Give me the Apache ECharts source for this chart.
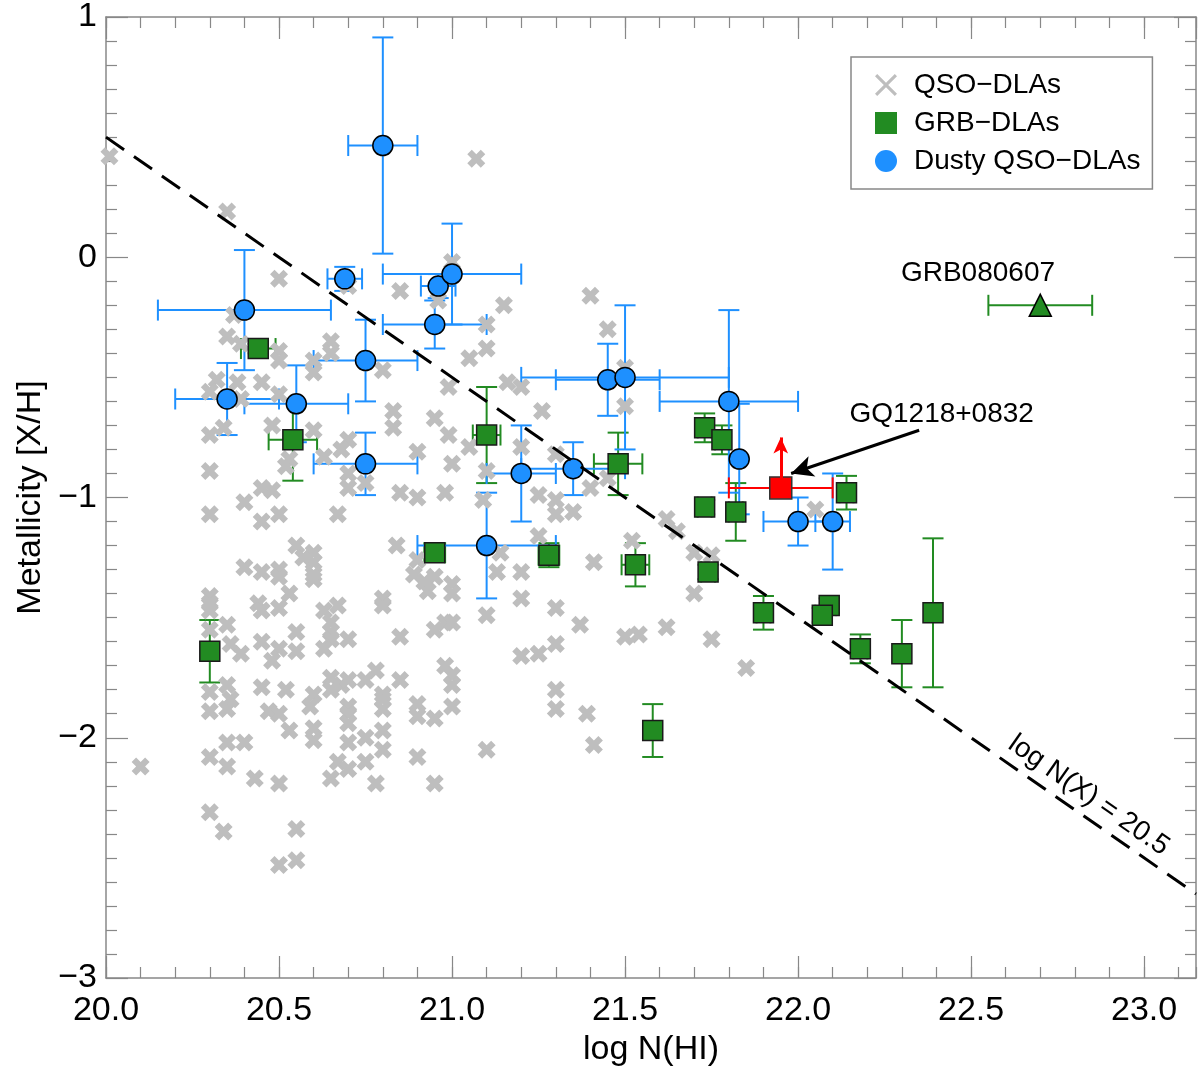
<!DOCTYPE html>
<html>
<head>
<meta charset="utf-8">
<script src="https://cdn.jsdelivr.net/npm/echarts@6/dist/echarts.min.js"></script>
<style>
html, body { margin: 0; padding: 0; background: #fff; }
#chart { width: 1200px; height: 1072px; }
</style>
</head>
<body>
<div id="chart"></div>
<script>
function $(selectors) {
    return document.querySelector(selectors);
}

// QSO-DLAs: [log N(HI), [X/H]]
var qsoDLAs = [
    [20.01, 0.42], [20.35, 0.19], [21.07, 0.41],
    [20.50, -0.09], [20.85, -0.14], [20.37, -0.24], [20.35, -0.33], [20.39, -0.36], [20.50, -0.39],
    [20.50, -0.43], [20.65, -0.35], [20.65, -0.40], [20.60, -0.43], [20.60, -0.48], [20.80, -0.47],
    [20.32, -0.51], [20.38, -0.52], [20.45, -0.52], [20.30, -0.56], [20.39, -0.59], [20.50, -0.57],
    [20.99, -0.54], [20.83, -0.64], [20.83, -0.71], [20.95, -0.67], [20.99, -0.74], [20.30, -0.74],
    [20.34, -0.71], [20.48, -0.70], [20.60, -0.72], [20.70, -0.76], [20.68, -0.80], [20.63, -0.83],
    [20.52, -0.87], [20.53, -0.84], [20.90, -0.81], [20.70, -0.90], [20.70, -0.96], [20.75, -0.94],
    [20.30, -0.89], [20.45, -0.96], [20.48, -0.97], [20.40, -1.02], [20.85, -0.98], [20.90, -1.00],
    [20.98, -0.98], [20.30, -1.07], [20.45, -1.10], [20.50, -1.07], [20.67, -1.07],
    [20.96, -0.18], [20.70, -0.12], [21.00, -0.02],
    [20.55, -1.20], [20.57, -1.25], [20.60, -1.23], [20.60, -1.27], [20.60, -1.32], [20.60, -1.34],
    [20.84, -1.20], [20.90, -1.26], [20.89, -1.32], [20.95, -1.33], [20.93, -1.39], [20.92, -1.35],
    [21.00, -1.36], [21.00, -1.40], [20.40, -1.29], [20.45, -1.31], [20.50, -1.30], [20.50, -1.33],
    [20.53, -1.40], [20.30, -1.41], [20.30, -1.44], [20.30, -1.47], [20.44, -1.44], [20.45, -1.47],
    [20.50, -1.46], [20.63, -1.47], [20.67, -1.45], [20.65, -1.52], [20.65, -1.56], [20.65, -1.59],
    [20.70, -1.59], [20.80, -1.42], [20.80, -1.45], [20.35, -1.53], [20.30, -1.55], [20.36, -1.61],
    [20.39, -1.65], [20.45, -1.60], [20.50, -1.63], [20.48, -1.68], [20.55, -1.56], [20.55, -1.64],
    [20.63, -1.63], [20.85, -1.58], [20.95, -1.55], [20.98, -1.52], [21.00, -1.52], [20.98, -1.70],
    [21.00, -1.74], [21.00, -1.78], [21.00, -1.87], [20.35, -1.78], [20.30, -1.81], [20.36, -1.84],
    [20.35, -1.88], [20.30, -1.89], [20.45, -1.79], [20.52, -1.80], [20.47, -1.89], [20.50, -1.90],
    [20.53, -1.97], [20.60, -1.82], [20.59, -1.87], [20.60, -1.96], [20.60, -2.01], [20.65, -1.75],
    [20.65, -1.80], [20.68, -1.78], [20.70, -1.76], [20.75, -1.76], [20.78, -1.72], [20.85, -1.76],
    [20.70, -1.87], [20.70, -1.90], [20.70, -1.94], [20.80, -1.82], [20.80, -1.84], [20.80, -1.88],
    [20.90, -1.86], [20.90, -1.91], [20.95, -1.92], [20.35, -2.02], [20.40, -2.02], [20.30, -2.08],
    [20.35, -2.12], [20.10, -2.12], [20.43, -2.17], [20.50, -2.19], [20.65, -2.17], [20.67, -2.10],
    [20.70, -2.13], [20.75, -2.00], [20.75, -2.10], [20.80, -1.97], [20.80, -2.05], [20.70, -2.02],
    [20.78, -2.19], [20.90, -2.08], [20.95, -2.19], [20.30, -2.31], [20.34, -2.39], [20.55, -2.38],
    [20.55, -2.51], [20.50, -2.53],
    [21.40, -0.16], [21.15, -0.20], [21.10, -0.28], [21.45, -0.30], [21.10, -0.38], [21.05, -0.42],
    [21.16, -0.52], [21.20, -0.54], [21.50, -0.46], [21.50, -0.62], [21.26, -0.64], [21.05, -0.79],
    [21.00, -0.86], [21.20, -0.79], [21.30, -0.82], [21.10, -0.89], [21.09, -1.01], [21.25, -0.99],
    [21.30, -1.01], [21.40, -0.96], [21.45, -0.92],
    [21.30, -1.07], [21.35, -1.06], [21.25, -1.16], [21.14, -1.23], [21.13, -1.31], [21.20, -1.31],
    [21.20, -1.42], [21.10, -1.49], [21.30, -1.46], [21.37, -1.53], [21.41, -1.27], [21.52, -1.18],
    [21.50, -1.58], [21.54, -1.57], [21.62, -1.54], [21.62, -1.09], [21.65, -1.14], [21.70, -1.23],
    [21.75, -1.24], [21.70, -1.40], [21.75, -1.59], [21.85, -1.71], [21.30, -1.61], [21.25, -1.65],
    [21.20, -1.66], [21.30, -1.80], [21.30, -1.88], [21.39, -1.90], [21.41, -2.03], [21.10, -2.05],
    [22.05, -1.05]
];

// GRB-DLAs: [log N(HI), [X/H], err N(HI), err [X/H]]
var grbDLAs = [
    [20.44, -0.38, 0.05, 0.02], [20.54, -0.76, 0.07, 0.17], [20.30, -1.64, 0.00, 0.13],
    [20.95, -1.23, 0.03, 0.03], [21.10, -0.74, 0.04, 0.20], [21.28, -1.24, 0.03, 0.05],
    [21.48, -0.86, 0.07, 0.13], [21.53, -1.28, 0.04, 0.09], [21.58, -1.97, 0.00, 0.11],
    [21.73, -0.71, 0.02, 0.06], [21.78, -0.76, 0.02, 0.06], [21.73, -1.04, 0.02, 0.03],
    [21.82, -1.06, 0.02, 0.12], [21.74, -1.31, 0.02, 0.03], [21.90, -1.48, 0.02, 0.07],
    [22.09, -1.45, 0.02, 0.03], [22.07, -1.49, 0.02, 0.03], [22.14, -0.98, 0.02, 0.07],
    [22.18, -1.63, 0.02, 0.06], [22.30, -1.65, 0.00, 0.14], [22.39, -1.48, 0.00, 0.31]
];

// Dusty QSO-DLAs: [log N(HI), [X/H], err N(HI), err [X/H]]
var dustyDLAs = [
    [20.80, 0.465, 0.10, 0.45], [20.40, -0.22, 0.25, 0.25], [20.69, -0.09, 0.05, 0.05],
    [20.96, -0.12, 0.05, 0.05], [21.00, -0.07, 0.20, 0.21], [20.95, -0.28, 0.15, 0.10],
    [20.75, -0.43, 0.15, 0.17], [20.35, -0.59, 0.15, 0.15], [20.55, -0.61, 0.15, 0.16],
    [20.75, -0.86, 0.15, 0.13], [21.45, -0.51, 0.15, 0.15], [21.50, -0.50, 0.30, 0.30],
    [21.80, -0.60, 0.20, 0.38], [21.83, -0.84, 0.00, 0.23], [21.20, -0.90, 0.10, 0.20],
    [21.35, -0.88, 0.15, 0.11], [21.10, -1.20, 0.20, 0.22], [22.00, -1.10, 0.10, 0.10],
    [22.10, -1.10, 0.05, 0.20]
];

var gq1218 = [[21.95, -0.96, 0.15, 0]];
var gq1218Limit = [[21.95, -0.96], [21.95, -0.75]];
var grb080607 = [[22.70, -0.20, 0.15, 0]];

// log N(X) = 20.5  ->  [X/H] = 20.5 - log N(HI)
var limitLine = [[20.0, 0.5], [23.15, -2.65]];

var noteTexts = ['GRB080607', 'GQ1218+0832', 'log N(X) = 20.5'];
var notePos = [[22.52, -0.065], [22.415, -0.654], [22.84, -2.24]];
var noteArrow = [[22.35, -0.72], [21.98, -0.90]];

var xRange = [20, 23.15];
var yRange = [-3, 1];

// chunky x marker for the QSO-DLAs, thinner one for the legend
var crossPath = 'path://M0,5 L5,0 L10,5 L15,0 L20,5 L15,10 L20,15 L15,20 L10,15 L5,20 L0,15 L5,10 Z';
var crossIcon = 'path://M0,2 L2,0 L10,8 L18,0 L20,2 L12,10 L20,18 L18,20 L10,12 L2,20 L0,18 L8,10 Z';
var font = 'Liberation Sans';
var frameColor = '#888';

function errorBars(color, cap) {
    return function(params, api) {
        var x = api.value(0),
            y = api.value(1),
            dx = api.value(2),
            dy = api.value(3);
        var style = { stroke: color, lineWidth: 2 };
        var kids = [];
        if (dx > 0) {
            var l = api.coord([x - dx, y]),
                r = api.coord([x + dx, y]);
            kids.push({ type: 'line', shape: { x1: l[0], y1: l[1], x2: r[0], y2: r[1] }, style: style });
            kids.push({ type: 'line', shape: { x1: l[0], y1: l[1] - cap, x2: l[0], y2: l[1] + cap }, style: style });
            kids.push({ type: 'line', shape: { x1: r[0], y1: r[1] - cap, x2: r[0], y2: r[1] + cap }, style: style });
        }
        if (dy > 0) {
            var t = api.coord([x, y + dy]),
                b = api.coord([x, y - dy]);
            kids.push({ type: 'line', shape: { x1: t[0], y1: t[1], x2: b[0], y2: b[1] }, style: style });
            kids.push({ type: 'line', shape: { x1: t[0] - cap, y1: t[1], x2: t[0] + cap, y2: t[1] }, style: style });
            kids.push({ type: 'line', shape: { x1: b[0] - cap, y1: b[1], x2: b[0] + cap, y2: b[1] }, style: style });
        }
        return { type: 'group', children: kids };
    };
}

function errSeries(name, data, color) {
    return {
        name: name,
        type: 'custom',
        renderItem: errorBars(color, 10.5),
        data: data,
        encode: { x: 0, y: 1 },
        silent: true
    };
}

function xAxisDef(pos, interval, tickLen, main) {
    return {
        type: 'value',
        position: pos,
        min: xRange[0],
        max: xRange[1],
        interval: interval,
        axisLine: { show: main, onZero: false, lineStyle: { color: frameColor, width: 1.5 } },
        axisTick: { show: true, inside: true, length: tickLen, lineStyle: { color: frameColor, width: 1.2 } },
        axisLabel: {
            show: main && pos === 'bottom',
            showMaxLabel: false,
            margin: 16,
            color: '#000',
            fontSize: 34,
            fontFamily: font,
            formatter: function(v) { return v.toFixed(1); }
        },
        splitLine: { show: false },
        name: main && pos === 'bottom' ? 'log N(HI)' : '',
        nameLocation: 'middle',
        nameGap: 52,
        nameTextStyle: { color: '#000', fontSize: 34, fontFamily: font }
    };
}

function yAxisDef(pos) {
    var left = pos === 'left';
    return {
        type: 'value',
        position: pos,
        min: yRange[0],
        max: yRange[1],
        interval: 1,
        axisLine: { show: true, onZero: false, lineStyle: { color: frameColor, width: 1.5 } },
        axisTick: { show: true, inside: true, length: 22, lineStyle: { color: frameColor, width: 1.2 } },
        minorTick: { show: true, splitNumber: 10, length: 11, lineStyle: { color: frameColor, width: 1.2 } },
        axisLabel: {
            show: left,
            margin: 9,
            color: '#000',
            fontSize: 34,
            fontFamily: font,
            formatter: function(v) { return String(v).replace('-', '\u2212'); }
        },
        splitLine: { show: false },
        name: left ? 'Metallicity [X/H]' : '',
        nameLocation: 'middle',
        nameGap: 42,
        nameTextStyle: { color: '#000', fontSize: 34, fontFamily: font }
    };
}

var myChart = echarts.init($('#chart'));

var option = {
    animation: false,
    backgroundColor: '#fff',
    textStyle: { fontFamily: font },
    grid: { left: 106, right: 4, top: 9, bottom: 94, containLabel: false },
    legend: {
        left: 851,
        top: 57,
        orient: 'vertical',
        backgroundColor: '#fff',
        borderColor: frameColor,
        borderWidth: 1.5,
        padding: [14, 12, 14, 24],
        itemWidth: 22,
        itemHeight: 22,
        itemGap: 10,
        itemStyle: { borderWidth: 0, opacity: 1 },
        textStyle: { fontSize: 28, color: '#000', fontFamily: font, padding: [0, 0, 0, 12] },
        data: [
            { name: 'QSO\u2212DLAs', icon: crossIcon },
            { name: 'GRB\u2212DLAs', icon: 'rect' },
            { name: 'Dusty QSO\u2212DLAs', icon: 'circle' }
        ]
    },
    xAxis: [
        xAxisDef('bottom', 0.5, 22, true),
        xAxisDef('bottom', 0.1, 11, false),
        xAxisDef('top', 0.5, 22, true),
        xAxisDef('top', 0.1, 11, false)
    ],
    yAxis: [yAxisDef('left'), yAxisDef('right')],
    series: [
        {
            name: 'QSO\u2212DLAs',
            type: 'scatter',
            symbol: crossPath,
            symbolSize: 18,
            itemStyle: { color: '#bebebe', opacity: 1 },
            data: qsoDLAs,
            silent: true
        },
        {
            name: 'limit',
            type: 'line',
            data: limitLine,
            showSymbol: false,
            lineStyle: { color: '#000', width: 3, type: [22, 12] },
            silent: true
        },
        errSeries('grbErr', grbDLAs, '#228b22'),
        {
            name: 'GRB\u2212DLAs',
            type: 'scatter',
            symbol: 'rect',
            symbolSize: 20,
            itemStyle: { color: '#228b22', borderColor: '#1a1a1a', borderWidth: 1.5, opacity: 1 },
            data: grbDLAs,
            silent: true
        },
        errSeries('dustyErr', dustyDLAs, '#1e90ff'),
        {
            name: 'Dusty QSO\u2212DLAs',
            type: 'scatter',
            symbol: 'circle',
            symbolSize: 20,
            itemStyle: { color: '#1e90ff', borderColor: '#000', borderWidth: 1.5, opacity: 1 },
            data: dustyDLAs,
            silent: true
        },
        errSeries('gqErr', gq1218, '#ff0000'),
        {
            name: 'GQ1218+0832',
            type: 'scatter',
            symbol: 'rect',
            symbolSize: 22,
            itemStyle: { color: '#ff0000', borderColor: '#333', borderWidth: 1.5, opacity: 1 },
            data: gq1218,
            silent: true,
            markLine: {
                silent: true,
                symbol: ['none', 'arrow'],
                symbolSize: [11, 16],
                label: { show: false },
                lineStyle: { color: '#ff0000', width: 3, type: 'solid', opacity: 1 },
                data: [[{ coord: gq1218Limit[0] }, { coord: gq1218Limit[1] }]]
            }
        },
        errSeries('grb080607Err', grb080607, '#228b22'),
        {
            name: 'GRB080607',
            type: 'scatter',
            symbol: 'triangle',
            symbolSize: 22,
            itemStyle: { color: '#228b22', borderColor: '#000', borderWidth: 1.5, opacity: 1 },
            data: grb080607,
            silent: true
        },
        {
            name: 'notes',
            type: 'scatter',
            symbolSize: 0,
            silent: true,
            itemStyle: { opacity: 1 },
            data: noteTexts.map(function(t, i) {
                return {
                    value: notePos[i],
                    label: {
                        show: true,
                        position: 'inside',
                        formatter: t,
                        fontSize: 28,
                        color: '#000',
                        fontFamily: font,
                        rotate: i === 2 ? -35 : 0
                    }
                };
            }),
            markLine: {
                silent: true,
                symbol: ['none', 'arrow'],
                symbolSize: [16, 22],
                label: { show: false },
                lineStyle: { color: '#000', width: 3, type: 'solid', opacity: 1 },
                data: [[{ coord: noteArrow[0] }, { coord: noteArrow[1] }]]
            }
        }
    ]
};

myChart.setOption(option);
</script>
</body>
</html>
